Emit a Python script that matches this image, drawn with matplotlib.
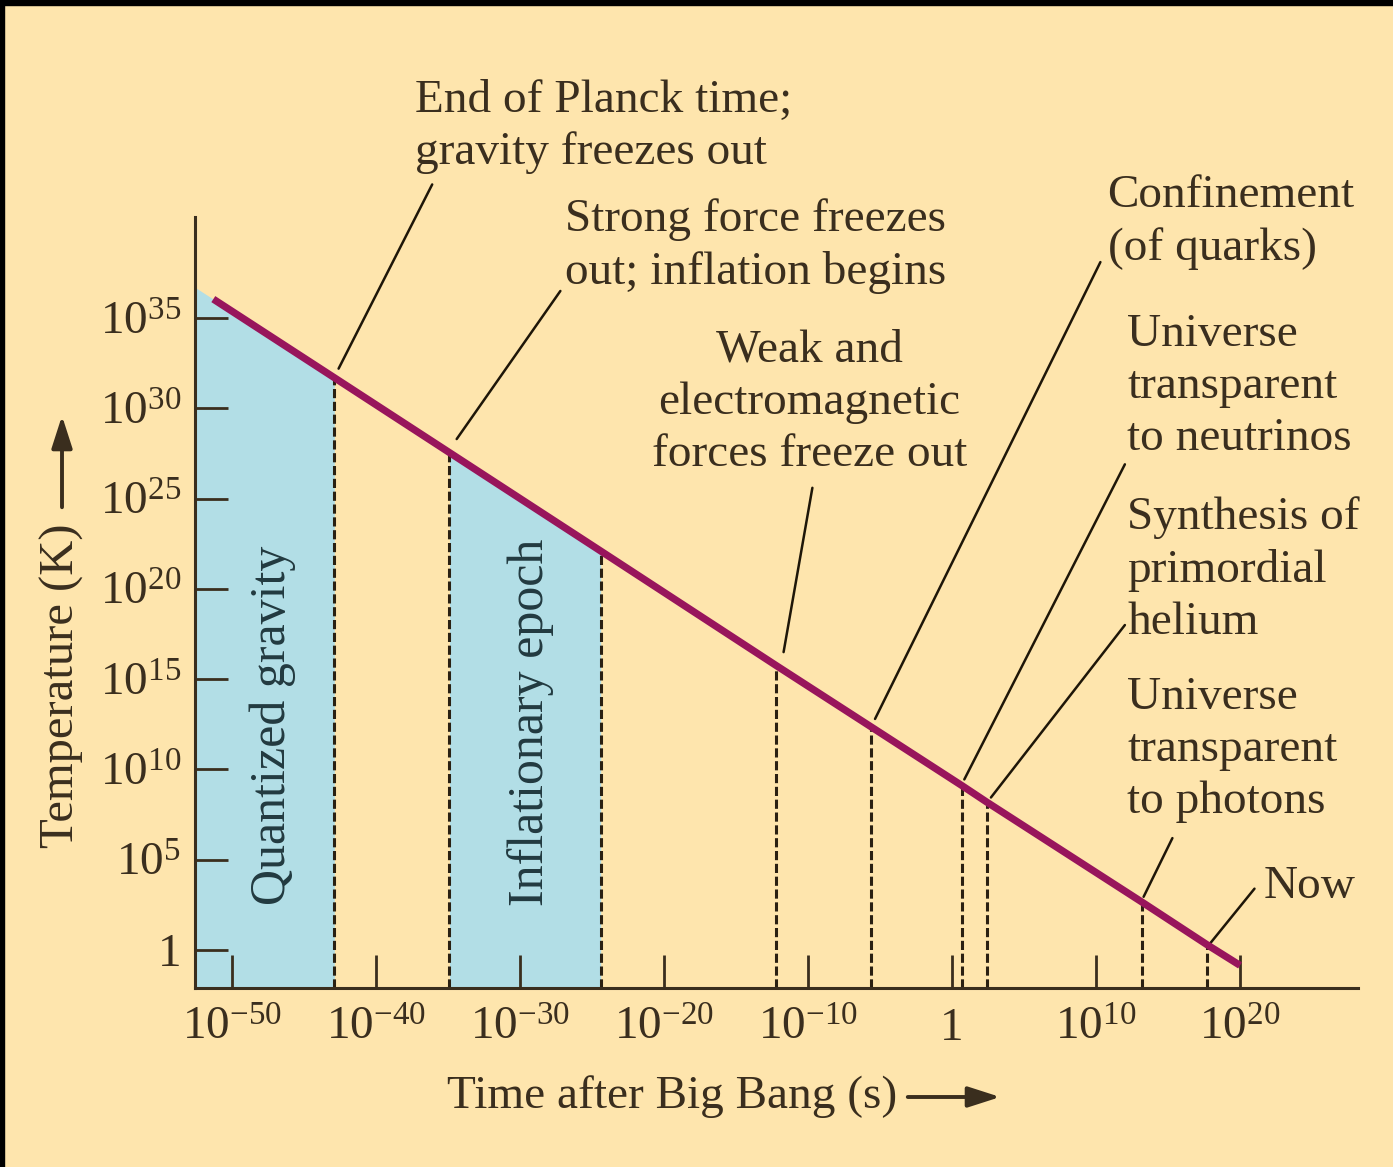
import numpy as np
import matplotlib.pyplot as plt
from matplotlib.patches import Rectangle, FancyArrowPatch

plt.rcParams['font.family'] = ['Liberation Serif', 'DejaVu Serif']
plt.rcParams['mathtext.fontset'] = 'custom'
plt.rcParams['mathtext.rm'] = 'Liberation Serif'
plt.rcParams['mathtext.it'] = 'Liberation Serif:italic'

# log10 of time (s) and temperature (K)
curve_log_t = [-51.3, -42.9, -34.9, -24.4, -12.2, -5.6, 0.7, 2.4, 13.2, 17.7, 20.0]
curve_log_T = [36.05, 31.7, 27.55, 22.1, 15.75, 12.35, 9.1, 8.2, 2.65, 0.3, -0.85]

# dashed markers for the events
event_log_t = [-42.9, -34.9, -24.4, -12.2, -5.6, 0.7, 2.4, 13.2, 17.7]
event_log_T = [31.7, 27.55, 22.1, 15.75, 12.35, 9.1, 8.2, 2.65, 0.3]

# shaded epochs
gravity_log_t = [-52.57, -51.3, -42.9]
gravity_log_T = [36.7, 36.05, 31.7]
inflation_log_t = [-34.9, -24.4]
inflation_log_T = [27.55, 22.1]

xtick_exp = [-50, -40, -30, -20, -10, 0, 10, 20]
xtick_labels = ['$10^{-50}$', '$10^{-40}$', '$10^{-30}$', '$10^{-20}$',
                '$10^{-10}$', '1', '$10^{10}$', '$10^{20}$']
ytick_exp = [0, 5, 10, 15, 20, 25, 30, 35]
ytick_labels = ['1', '$10^{5}$', '$10^{10}$', '$10^{15}$', '$10^{20}$',
                '$10^{25}$', '$10^{30}$', '$10^{35}$']

# label text, anchor (log t, log T), alignment, leader line top and bottom
notes = [
    ('End of Planck time;\ngravity freezes out', (-37.3, 45.6), 'left', (-36.1, 42.4), (-42.6, 32.2)),
    ('Strong force freezes\nout; inflation begins', (-26.9, 39.0), 'left', (-27.2, 36.5), (-34.4, 28.3)),
    ('Weak and\nelectromagnetic\nforces freeze out', (-9.9, 30.3), 'center', (-9.7, 25.6), (-11.7, 16.5)),
    ('Confinement\n(of quarks)', (10.8, 40.3), 'left', (10.3, 38.1), (-5.35, 12.8)),
    ('Universe\ntransparent\nto neutrinos', (12.15, 31.2), 'left', (12.0, 26.9), (0.85, 9.45)),
    ('Synthesis of\nprimordial\nhelium', (12.15, 21.05), 'left', (12.0, 18.0), (2.7, 8.45)),
    ('Universe\ntransparent\nto photons', (12.15, 11.1), 'left', (15.3, 6.2), (13.3, 2.95)),
    ('Now', (21.6, 3.5), 'left', (21.0, 3.4), (17.85, 0.3)),
]

bg = '#FEE5AD'
blue = '#B2DEE6'
dark = '#3A2E1E'
purple = '#98155C'

fig = plt.figure(figsize=(13.93, 11.67), dpi=100, facecolor=bg)
ax = fig.add_axes([0.14, 0.1534, 0.835, 0.6607])
ax.set_facecolor(bg)
ax.set_xscale('log')
ax.set_yscale('log')
ax.set_xlim(10**-52.57, 10**28.2)
ax.set_ylim(10**-2.1, 10**40.6)

t = 10.0 ** np.array(curve_log_t)
T = 10.0 ** np.array(curve_log_T)
ylow = ax.get_ylim()[0]

ax.fill_between(10.0 ** np.array(gravity_log_t), 10.0 ** np.array(gravity_log_T), ylow,
                color=blue, lw=0, zorder=1)
ax.fill_between(10.0 ** np.array(inflation_log_t), 10.0 ** np.array(inflation_log_T), ylow,
                color=blue, lw=0, zorder=1)

ax.vlines(10.0 ** np.array(event_log_t), ylow, 10.0 ** np.array(event_log_T),
          colors='#2A2012', lw=2.2, linestyles=(0, (3, 1.2)), zorder=2)
ax.plot(t, T, color=purple, lw=5.2, solid_capstyle='butt', zorder=4)

for text, (lx, ly), ha, top, bot in notes:
    ax.text(10**lx, 10**ly, text, ha=ha, va='center', multialignment=ha,
            fontsize=34, color=dark, linespacing=1.3)
    ax.annotate('', xy=(10**bot[0], 10**bot[1]), xytext=(10**top[0], 10**top[1]),
                arrowprops=dict(arrowstyle='-', lw=1.8, color='#1E1608',
                                shrinkA=0, shrinkB=0),
                annotation_clip=False, zorder=3)

ax.text(10**-47.2, 10**12.46, 'Quantized gravity', rotation=90, ha='center', va='center',
        fontsize=36, color='#223A40')
ax.text(10**-29.3, 10**12.62, 'Inflationary epoch', rotation=90, ha='center', va='center',
        fontsize=36, color='#223A40')

ax.set_xticks([10.0**e for e in xtick_exp], xtick_labels)
ax.set_yticks([10.0**e for e in ytick_exp], ytick_labels)
ax.xaxis.set_minor_locator(plt.NullLocator())
ax.yaxis.set_minor_locator(plt.NullLocator())
ax.tick_params(direction='in', length=24, width=2, color=dark, labelcolor=dark,
               labelsize=34)
ax.tick_params(axis='x', pad=14)
ax.tick_params(axis='y', pad=10)
for side in ['top', 'right']:
    ax.spines[side].set_visible(False)
for side in ['left', 'bottom']:
    ax.spines[side].set_color(dark)
    ax.spines[side].set_linewidth(2.2)

# axis titles with arrows
fig.text(672 / 1393, 1 - 1097 / 1167, 'Time after Big Bang (s)', ha='center', va='center',
         fontsize=34, color=dark)
fig.patches.append(FancyArrowPatch(
    (905 / 1393, 1 - 1097 / 1167), (1003 / 1393, 1 - 1097 / 1167),
    transform=fig.transFigure, arrowstyle='-|>,head_length=1.4,head_width=0.45',
    mutation_scale=14, lw=2.8, color=dark))
fig.text(62 / 1393, 1 - 686 / 1167, 'Temperature (K)', rotation=90, ha='center', va='center',
         fontsize=35, color=dark)
fig.patches.append(FancyArrowPatch(
    (62 / 1393, 1 - 510 / 1167), (62 / 1393, 1 - 413 / 1167),
    transform=fig.transFigure, arrowstyle='-|>,head_length=1.4,head_width=0.45',
    mutation_scale=14, lw=2.8, color=dark))

# thin black frame at the top and left edges
fig.patches.append(Rectangle((0, 1 - 5 / 1167), 1, 5 / 1167, transform=fig.transFigure,
                             color='black', zorder=10))
fig.patches.append(Rectangle((0, 0), 4 / 1393, 1, transform=fig.transFigure,
                             color='black', zorder=10))

fig.savefig('out.png', dpi=100, facecolor=bg)
